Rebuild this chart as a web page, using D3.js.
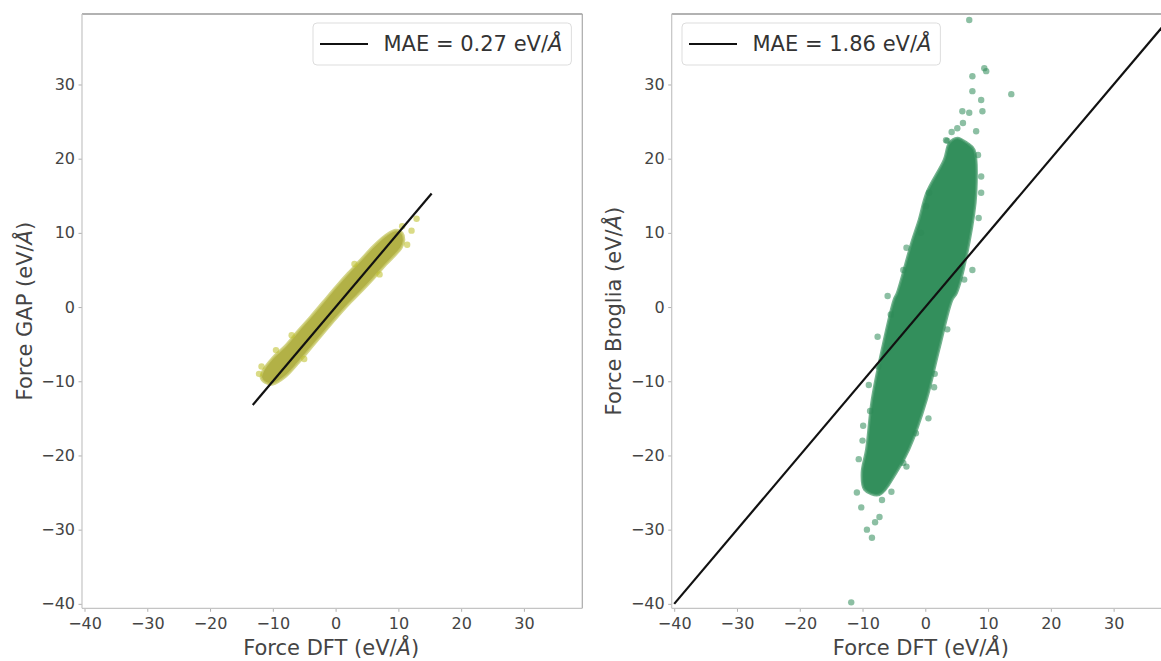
<!DOCTYPE html>
<html>
<head>
<meta charset="utf-8">
<script src="https://cdn.jsdelivr.net/npm/d3@7"></script>
<style>
  html, body { margin: 0; padding: 0; background: #fff; }
  svg { display: block; font-family: "DejaVu Sans", sans-serif; }
</style>
</head>
<body>
<svg id="chart" width="1161" height="661"></svg>
<script>
// ---------------- data ----------------
const tickValues = [-40, -30, -20, -10, 0, 10, 20, 30];
const axisDomainX = [-40.4, 39.3];
const axisDomainY = [-40.6, 39.5];

// GAP panel: outline of the dense band of points (DFT force, GAP force)
const gapBand = [
  [-11.6, -8.6], [-10.0, -6.8], [-8.0, -5.2], [-6.0, -3.2], [-4.0, -1.3],
  [-2.0, 0.7], [0.0, 2.7], [2.0, 4.6], [4.0, 6.4], [6.0, 8.2], [8.0, 9.7],
  [9.6, 10.4], [10.6, 10.0], [10.9, 9.0], [10.5, 8.0], [8.0, 5.7], [6.0, 3.8],
  [4.0, 2.0], [2.0, 0.3], [0.0, -1.6], [-2.0, -3.6], [-4.0, -5.6], [-6.0, -7.6],
  [-8.0, -9.4], [-10.0, -10.4], [-11.2, -10.2], [-11.9, -9.5]
];
// GAP panel: isolated points
const gapPoints = [
  [12.1, 10.3], [12.9, 11.9], [11.4, 8.4], [10.6, 10.9], [-12.2, -9.0], [-11.8, -8.0],
  [-9.5, -5.8], [-7.0, -3.8], [3.0, 5.8], [7.0, 4.4], [-5.0, -7.0]
];
const gapLine = [-13.2, 15.3];
const gapMAE = "0.27";

// Broglia panel: outline of the dense cloud (DFT force, Broglia force)
const brogliaBand = [
  [3.8, 22.1], [3.0, 19.9], [0.2, 15.4], [-1.0, 11.8], [-2.2, 8.7],
  [-4.5, 1.9], [-5.0, 1.0], [-6.9, -5.7], [-8.5, -12.5], [-9.4, -19.2],
  [-10.1, -22.3], [-9.7, -24.6], [-7.3, -25.3], [-4.6, -22.3], [-2.6, -19.2],
  [0.2, -12.5], [2.2, -5.7], [4.3, 1.0], [5.0, 1.9], [7.0, 8.7],
  [8.1, 15.4], [7.8, 21.2], [6.7, 22.1], [5.1, 22.8]
];
// Broglia panel: isolated / edge points
const brogliaPoints = [
  [7.0, 38.7], [9.4, 32.2], [9.7, 31.8], [7.5, 31.1], [7.5, 29.1], [13.7, 28.7],
  [8.9, 27.9], [9.1, 26.4], [5.9, 26.4], [7.0, 26.2], [5.1, 24.1], [8.1, 23.7],
  [3.5, 22.4], [3.3, 22.5], [0.6, 15.4], [0.1, 13.6], [-0.7, 10.0], [8.9, 17.6],
  [8.9, 15.4], [6.2, 3.7], [1.4, -10.8], [-10.9, -25.0], [-6.9, -26.0],
  [-7.3, -28.3], [-9.3, -30.0], [-8.5, -31.1], [-5.4, -24.9], [-11.8, -39.8],
  [-10.6, -20.5], [-9.9, -16.0], [-9.0, -10.5], [-7.6, -4.0], [-6.0, 1.5],
  [-3.0, 8.0], [-10.2, -27.0], [-8.0, -29.0], [-3.5, -21.0], [0.5, -15.0],
  [-3.5, 5.0], [-5.5, -1.0], [-7.5, -8.0], [-8.8, -14.0], [-10.0, -18.0],
  [8.5, 12.0], [7.5, 5.0], [3.5, -3.0], [1.5, -9.0], [-1.5, -17.0], [-3.0, -21.5],
  [6.0, 24.8], [4.2, 23.6], [8.4, 20.5]
];
const brogliaLine = [-40.0, 38.7];
const brogliaMAE = "1.86";

// ---------------- drawing ----------------
const svg = d3.select("#chart");
const plotTop = 14, plotBottom = 608.3;

const panels = [
  { x0: 82, x1: 582.3, band: gapBand, points: gapPoints, line: gapLine, mae: gapMAE,
    color: "#bcbd22", bandFill: "#b2b146", edge: "#c9ca6e", ylabel: "Force GAP (eV/", legendLeft: 313 },
  { x0: 671.7, x1: 1172, band: brogliaBand, points: brogliaPoints, line: brogliaLine, mae: brogliaMAE,
    color: "#2e8b57", bandFill: "#338f5c", edge: "#4f9f72", ylabel: "Force Broglia (eV/", legendLeft: 682 }
];

panels.forEach((p, i) => {
  const x = d3.scaleLinear().domain(axisDomainX).range([p.x0, p.x1]);
  const y = d3.scaleLinear().domain(axisDomainY).range([plotBottom, plotTop]);
  const g = svg.append("g");

  const clipId = "clip" + i;
  svg.append("clipPath").attr("id", clipId).append("rect")
    .attr("x", p.x0).attr("y", plotTop).attr("width", p.x1 - p.x0).attr("height", plotBottom - plotTop);

  const plot = g.append("g").attr("clip-path", `url(#${clipId})`);

  // dense cloud
  plot.append("path")
    .datum(p.band)
    .attr("d", d3.line().x(d => x(d[0])).y(d => y(d[1])).curve(d3.curveCatmullRomClosed.alpha(0.5)))
    .attr("fill", p.bandFill)
    .attr("stroke", p.edge)
    .attr("stroke-opacity", 0.8)
    .attr("stroke-width", 2.5);

  // individual points
  plot.selectAll("circle.pt").data(p.points).join("circle")
    .attr("class", "pt")
    .attr("cx", d => x(d[0])).attr("cy", d => y(d[1]))
    .attr("r", 3.2)
    .attr("fill", p.color)
    .attr("fill-opacity", 0.55);

  // y = x line
  plot.append("line")
    .attr("x1", x(p.line[0])).attr("y1", y(p.line[0]))
    .attr("x2", x(p.line[1])).attr("y2", y(p.line[1]))
    .attr("stroke", "#111").attr("stroke-width", 2.2);

  // axes
  const fmt = d => d < 0 ? "\u2212" + Math.abs(d) : String(d);
  const xAxis = d3.axisBottom(x).tickValues(tickValues).tickSize(3.5).tickPadding(6).tickFormat(fmt);
  const yAxis = d3.axisLeft(y).tickValues(tickValues).tickSize(3.5).tickPadding(3.5).tickFormat(fmt);

  const gx = g.append("g").attr("transform", `translate(0,${plotBottom})`).call(xAxis);
  const gy = g.append("g").attr("transform", `translate(${p.x0},0)`).call(yAxis);
  [gx, gy].forEach(a => {
    a.select(".domain").remove();
    a.selectAll(".tick line").attr("stroke", "#b0b0b0");
    a.selectAll(".tick text").attr("fill", "#444").style("font-size", "16px")
      .style("font-family", "'DejaVu Sans', sans-serif");
  });

  // spines
  const sp = g.append("g").attr("fill", "none");
  sp.append("line").attr("x1", p.x0).attr("x2", p.x1).attr("y1", plotTop).attr("y2", plotTop)
    .attr("stroke", "#999").attr("stroke-width", 1.3);
  sp.append("line").attr("x1", p.x1).attr("x2", p.x1).attr("y1", plotTop).attr("y2", plotBottom)
    .attr("stroke", "#aaa").attr("stroke-width", 1.2);
  sp.append("line").attr("x1", p.x0).attr("x2", p.x0).attr("y1", plotTop).attr("y2", plotBottom)
    .attr("stroke", "#c4c4c4").attr("stroke-width", 1.2);
  sp.append("line").attr("x1", p.x0).attr("x2", p.x1).attr("y1", plotBottom).attr("y2", plotBottom)
    .attr("stroke", "#c4c4c4").attr("stroke-width", 1.2);

  // axis labels
  const xl = g.append("text")
    .attr("x", (p.x0 + p.x1) / 2 - 1).attr("y", 655)
    .attr("text-anchor", "middle").attr("fill", "#444").style("font-size", "21px");
  xl.append("tspan").text("Force DFT (eV/");
  xl.append("tspan").attr("font-style", "italic").text("Å");
  xl.append("tspan").text(")");

  const yl = g.append("text")
    .attr("transform", `translate(${p.x0 - 50.5},${(plotTop + plotBottom) / 2}) rotate(-90)`)
    .attr("text-anchor", "middle").attr("fill", "#444").style("font-size", "21px");
  yl.append("tspan").text(p.ylabel);
  yl.append("tspan").attr("font-style", "italic").text("Å");
  yl.append("tspan").text(")");

  // legend
  const lg = g.append("g").attr("transform", `translate(${p.legendLeft},23)`);
  const lt = lg.append("text").attr("x", 70.5).attr("y", 28)
    .attr("fill", "#333").style("font-size", "21px");
  lt.append("tspan").text(`MAE = ${p.mae} eV/`);
  lt.append("tspan").attr("font-style", "italic").text("Å");
  const tw = lt.node().getComputedTextLength();
  lg.insert("rect", "text")
    .attr("x", 0).attr("y", 0).attr("width", 70.5 + tw + 9).attr("height", 42)
    .attr("rx", 4).attr("fill", "#fff").attr("fill-opacity", 0.8)
    .attr("stroke", "#ddd").attr("stroke-width", 1);
  lg.insert("line", "text")
    .attr("x1", 7).attr("x2", 55).attr("y1", 21).attr("y2", 21)
    .attr("stroke", "#111").attr("stroke-width", 2.2);
});
</script>
</body>
</html>
